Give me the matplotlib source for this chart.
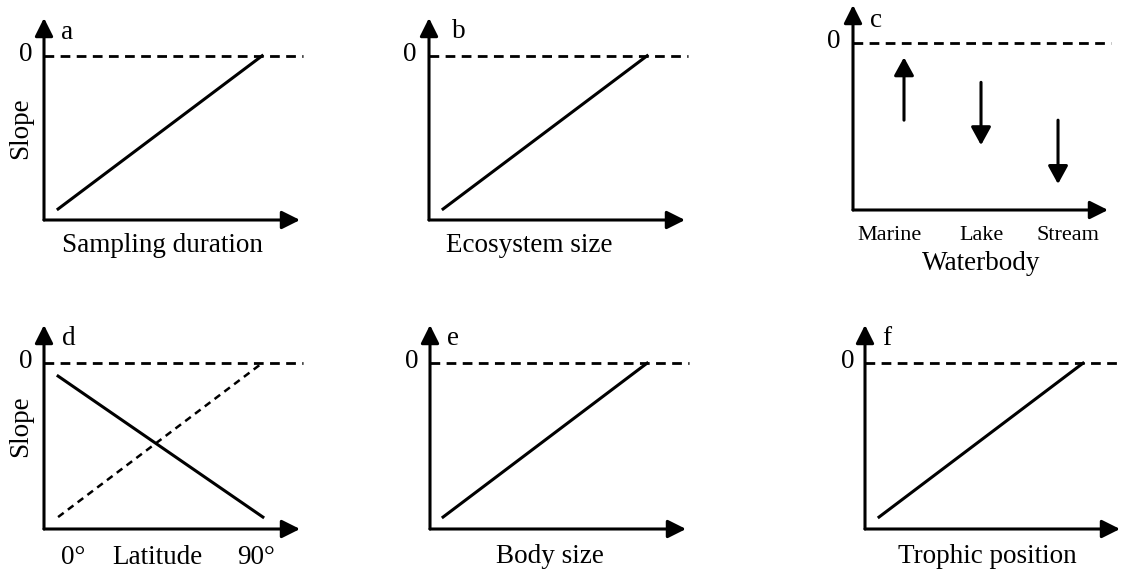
import matplotlib.pyplot as plt

plt.rcParams['font.family'] = ['Liberation Serif', 'DejaVu Serif']

W, H = 1121, 574

# slope lines (x along axis 0..1, slope: 0 = dashed line, -1 = x axis)
duration_x = [0.055, 0.852]
duration_y = [-0.933, 0.0]
ecosize_x = [0.055, 0.852]
ecosize_y = [-0.933, 0.0]
lat_solid_x = [0.055, 0.855]
lat_solid_y = [-0.078, -0.928]
lat_dash_x = [0.055, 0.852]
lat_dash_y = [-0.928, 0.0]
body_x = [0.051, 0.848]
body_y = [-0.928, 0.0]
trophic_x = [0.055, 0.855]
trophic_y = [-0.928, 0.0]

# panel c: waterbody arrows
water_x = [0.2, 0.502, 0.804]
water_from = [-0.461, -0.234, -0.461]
water_to = [-0.084, -0.611, -0.844]
water_labels = ['Marine', 'Lake', 'Stream']


def px(x, y):
    return x / W, 1 - y / H


def make_axes(fig, left, right, bottom, top):
    x0, y0 = px(left, bottom)
    x1, y1 = px(right, top)
    ax = fig.add_axes([x0, y0, x1 - x0, y1 - y0])
    ax.set_xlim(0, 1)
    ax.set_ylim(-1, 0.23)
    ax.axis('off')
    arrow = dict(arrowstyle='-|>,head_length=1.0,head_width=0.5', lw=2.2,
                 color='k', shrinkA=0, shrinkB=0, mutation_scale=11)
    ax.annotate('', xy=(1, 0), xytext=(0, 0), xycoords='axes fraction',
                arrowprops=arrow, annotation_clip=False)
    ax.annotate('', xy=(0, 1), xytext=(0, 0), xycoords='axes fraction',
                arrowprops=arrow, annotation_clip=False)
    ax.plot([0, 1.01], [0, 0], color='k', lw=2, dashes=(3.5, 2.3), clip_on=False)
    return ax


fig = plt.figure(figsize=(W / 100, H / 100), dpi=100)
fs = 19.5


def label(x, y, s, ha='left', size=fs, **kw):
    fig.text(*px(x, y), s, ha=ha, va='baseline', fontsize=size, **kw)


# a
ax = make_axes(fig, 44, 300, 220, 18)
ax.plot(duration_x, duration_y, color='k', lw=2.2)
label(61, 39, 'a')
label(33, 61, '0', ha='right')
fig.text(*px(21, 128), 'Slope', rotation=90, ha='center', va='center', fontsize=fs)
label(162, 252, 'Sampling duration', ha='center')

# b
ax = make_axes(fig, 429, 685, 220, 18)
ax.plot(ecosize_x, ecosize_y, color='k', lw=2.2)
label(452, 38, 'b')
label(416, 61, '0', ha='right')
label(529, 252, 'Ecosystem size', ha='center')

# c
ax = make_axes(fig, 853, 1108, 210, 5)
for x, y0, y1 in zip(water_x, water_from, water_to):
    ax.annotate('', xy=(x, y1), xytext=(x, y0),
                arrowprops=dict(arrowstyle='-|>,head_length=1.0,head_width=0.55',
                                lw=2.2, color='k', shrinkA=0, shrinkB=0,
                                mutation_scale=11))
label(870, 27, 'c')
label(841, 48, '0', ha='right')
for x, s in zip([889, 982, 1068], water_labels):
    label(x, 240, s, ha='center', size=16)
label(981, 270, 'Waterbody', ha='center')

# d
ax = make_axes(fig, 44, 300, 529, 325)
ax.plot(lat_solid_x, lat_solid_y, color='k', lw=2.2)
ax.plot(lat_dash_x, lat_dash_y, color='k', lw=1.8, dashes=(2.8, 2.1))
label(62, 345, 'd')
label(33, 368, '0', ha='right')
fig.text(*px(21, 426), 'Slope', rotation=90, ha='center', va='center', fontsize=fs)
label(73, 564, '0°', ha='center')
label(157, 564, 'Latitude', ha='center')
label(256, 564, '90°', ha='center')

# e
ax = make_axes(fig, 430, 686, 529, 325)
ax.plot(body_x, body_y, color='k', lw=2.2)
label(447, 345, 'e')
label(418, 368, '0', ha='right')
label(550, 563, 'Body size', ha='center')

# f
ax = make_axes(fig, 865, 1120, 529, 325)
ax.plot(trophic_x, trophic_y, color='k', lw=2.2)
label(882, 345, 'f')
label(854, 368, '0', ha='right')
label(987, 563, 'Trophic position', ha='center')

fig.savefig('out.png', dpi=100)
